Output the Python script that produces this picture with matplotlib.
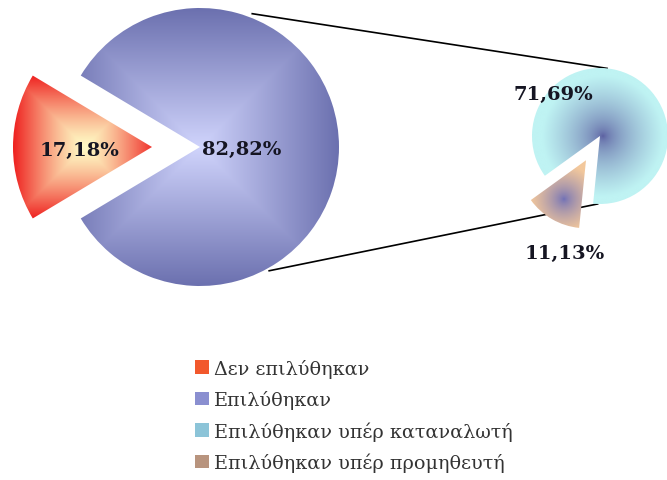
import numpy as np
import matplotlib.pyplot as plt
from matplotlib.colors import to_rgb
from matplotlib.patches import Patch

main_labels = ['Δεν επιλύθηκαν', 'Επιλύθηκαν']
main_values = [17.18, 82.82]
sub_labels = ['Επιλύθηκαν υπέρ καταναλωτή', 'Επιλύθηκαν υπέρ προμηθευτή']
sub_values = [71.69, 11.13]

W, H = 667, 481


def pct(v):
    return f"{v:.2f}%".replace('.', ',')


def fill_gradient(ax, patch, cx, cy, size, c_in, c_out, gamma=1.0, radial=False, reach=1.0):
    # "from centre" gradient (rectangular or radial), clipped to the wedge
    xs = np.linspace(-1, 1, 240)
    X, Y = np.meshgrid(xs, xs)
    if radial:
        t = np.sqrt(X ** 2 + Y ** 2)
    else:
        t = np.maximum(np.abs(X), np.abs(Y))
    t = np.clip(t / reach, 0, 1) ** gamma
    a, b = np.array(to_rgb(c_in)), np.array(to_rgb(c_out))
    img = a + (b - a) * t[..., None]
    im = ax.imshow(img, extent=(cx - size, cx + size, cy - size, cy + size),
                   origin='lower', interpolation='bilinear', zorder=2)
    im.set_clip_path(patch)


fig = plt.figure(figsize=(W / 100, H / 100), dpi=100)
ax = fig.add_axes([0, 0, 1, 1])

# main pie
main_c = (200, H - 148)
main_r = 139
span = main_values[0] / sum(main_values) * 360
wm, _ = ax.pie(main_values, center=main_c, radius=main_r, startangle=180 - span / 2,
               explode=[48, 0], wedgeprops=dict(fc='none', ec='none'))

# secondary pie
sub_c = (600, H - 137)
sub_r = 68
tan_span = sub_values[1] / sum(sub_values) * 360
ws, _ = ax.pie(sub_values, center=sub_c, radius=sub_r, startangle=240 + tan_span / 2,
               explode=[0, 28], wedgeprops=dict(fc='none', ec='none'))

# gradients
red_c = wm[0].center
fill_gradient(ax, wm[0], red_c[0] - 0.48 * main_r, red_c[1], 80, '#fffac4', '#ee1a1a',
              1.3, reach=0.92)
fill_gradient(ax, wm[1], main_c[0], main_c[1], main_r + 2, '#d0d4fc', '#6a6fae', 1.0)
fill_gradient(ax, ws[0], sub_c[0] + 3, sub_c[1], sub_r + 8, '#585a9e', '#bff3f3',
              0.6, radial=True, reach=0.8)
tc = ws[1].center
ang = np.deg2rad(240)
fill_gradient(ax, ws[1], tc[0] + 45 * np.cos(ang), tc[1] + 45 * np.sin(ang), 50,
              '#6c6eb8', '#f3c89c', 0.7, radial=True, reach=0.68)

# connector lines
def on_circle(c, r, deg):
    return c[0] + r * np.cos(np.deg2rad(deg)), c[1] + r * np.sin(np.deg2rad(deg))

p1 = on_circle(main_c, main_r * 1.03, 68.6)
p2 = on_circle(sub_c, sub_r * 1.0, 84)
p3 = on_circle(main_c, main_r * 1.02, -60.8)
p4 = on_circle(sub_c, sub_r * 1.0, -92)
ax.plot([p1[0], p2[0]], [p1[1], p2[1]], color='black', lw=1.2, zorder=1)
ax.plot([p3[0], p4[0]], [p3[1], p4[1]], color='black', lw=1.2, zorder=1)

# percentage labels
lab_kw = dict(fontsize=14, fontweight='bold', family='DejaVu Serif', color='#151522',
              ha='center', va='center', zorder=5)
ax.text(red_c[0] - 0.52 * main_r, red_c[1] - 3, pct(main_values[0]), **lab_kw)
ax.text(main_c[0] + 0.3 * main_r, main_c[1] - 2, pct(main_values[1]), **lab_kw)
lx, ly = on_circle(sub_c, sub_r * 0.93, 138)
ax.text(lx, ly, pct(sub_values[0]), **lab_kw)
lx, ly = on_circle(tc, sub_r * 1.4, 257)
ax.text(lx, ly, pct(sub_values[1]), **lab_kw)

ax.set_xlim(0, W)
ax.set_ylim(0, H)
ax.set_aspect('auto')
ax.set_axis_off()

handles = [Patch(fc='#f2582c', ec='none'), Patch(fc='#8a8fd0', ec='none'),
           Patch(fc='#8cc4d8', ec='none'), Patch(fc='#b8947e', ec='none')]
leg = ax.legend(handles, main_labels + sub_labels, loc='upper left',
                bbox_to_anchor=(195 / W, 1 - 360 / H), frameon=False,
                prop=dict(family='DejaVu Serif', size=13.8), handlelength=0.72,
                handleheight=0.72, handletextpad=0.25, labelspacing=0.63,
                borderpad=0, borderaxespad=0)
for t in leg.get_texts():
    t.set_color('#333333')

fig.savefig('out.png', dpi=100, facecolor='white')
